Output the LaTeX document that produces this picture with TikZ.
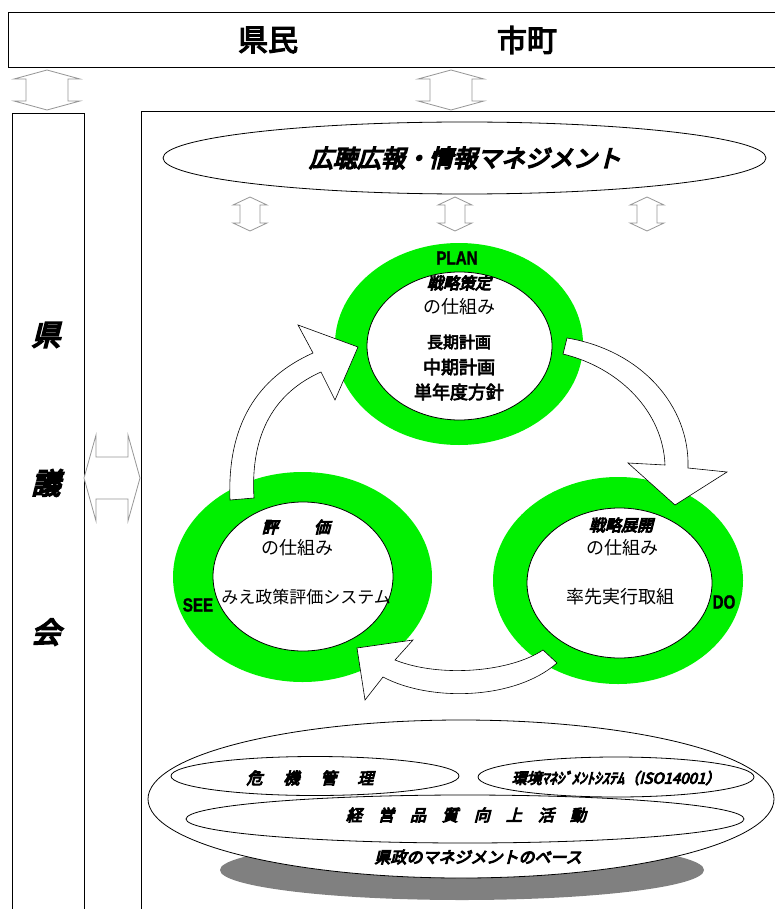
\documentclass[tikz,border=0pt]{standalone}
\usepackage{fontspec}
\usepackage{graphicx}
\newfontfamily\jp{Noto Sans CJK JP}
\newfontfamily\jpb[FakeBold=4]{Noto Sans CJK JP}
\newfontfamily\jpbi[FakeBold=6,FakeSlant=0.25]{Noto Sans CJK JP}
\newfontfamily\latb[FakeBold=1.5]{Liberation Sans}
\definecolor{ringgreen}{RGB}{0,240,0}
\definecolor{dagray}{RGB}{150,150,150}
\definecolor{shadowgray}{RGB}{128,128,128}
\newcommand{\VDArrow}[6]{%
  \draw[dagray, fill=white, line width=0.8pt] (#1,#2) -- (#1+#4,#2+#6) -- (#1+#5,#2+#6) -- (#1+#5,#3-#6) -- (#1+#4,#3-#6) -- (#1,#3) -- (#1-#4,#3-#6) -- (#1-#5,#3-#6) -- (#1-#5,#2+#6) -- (#1-#4,#2+#6) -- cycle;}
\newcommand{\HDArrow}[6]{%
  \draw[dagray, fill=white, line width=0.8pt] (#2,#1) -- (#2+#6,#1-#4) -- (#2+#6,#1-#5) -- (#3-#6,#1-#5) -- (#3-#6,#1-#4) -- (#3,#1) -- (#3-#6,#1+#4) -- (#3-#6,#1+#5) -- (#2+#6,#1+#5) -- (#2+#6,#1+#4) -- cycle;}
\tikzset{
  frame/.style={line width=0.9pt},
  ell/.style={draw=black, fill=white, line width=0.8pt},
  blockarrow/.style={draw=black, fill=white, line width=0.6pt, line join=miter},
  ringtext/.style={inner sep=0pt, font=\jp\fontsize{18}{20}\selectfont},
  ringtitle/.style={inner sep=0pt, font=\jpbi\fontsize{16}{18}\selectfont},
  phase/.style={inner sep=0pt, font=\latb\bfseries\fontsize{19}{21}\selectfont},
  basetext/.style={inner sep=0pt, font=\jpbi\fontsize{16}{18}\selectfont},
  sidetext/.style={inner sep=0pt, font=\jpbi\fontsize{29}{31}\selectfont},
}
\begin{document}
\begin{tikzpicture}[x=1pt,y=-1pt]
\useasboundingbox (0,0) rectangle (775,909);
% top box
\draw[frame] (778,12) -- (8,12) -- (8,67) -- (778,67);
\node[inner sep=0pt, font=\jpb\fontsize{30}{32}\selectfont] (kenmin) at (268,40) {県民};
\node[inner sep=0pt, font=\jpb\fontsize{30}{32}\selectfont] (shicho) at (527,40) {市町};
% left box
\draw[frame] (12,912) -- (12,113) -- (84,113) -- (84,912);
\node[sidetext] (k1) at (46,335) {県};
\node[sidetext] (k2) at (46,483) {議};
\node[sidetext] (k3) at (46,632) {会};
% main box
\draw[frame] (141,912) -- (141,111) -- (778,111);
% double arrows
\VDArrow{47}{70}{110}{33}{21}{9}
\VDArrow{451}{70}{110}{33}{21}{9}
\VDArrow{250}{197}{231}{17}{10}{8}
\VDArrow{455}{197}{231}{17}{10}{8}
\VDArrow{647}{197}{231}{17}{10}{8}
\HDArrow{478}{84}{140}{43}{21}{12}
% top ellipse
\draw[ell] (464.5,158) ellipse [x radius=301.5pt, y radius=36pt];
\node[inner sep=0pt, font=\jpbi\fontsize{24}{26}\selectfont] (koho) at (465,158) {広聴広報・情報マネジメント};
% rings
\fill[ringgreen] (459,344) ellipse [x radius=124pt, y radius=101pt];
\draw[ell] (459.5,346) ellipse [x radius=92.5pt, y radius=74pt];
\fill[ringgreen] (302.5,577) ellipse [x radius=129.5pt, y radius=105pt];
\draw[ell] (303,576.5) ellipse [x radius=90pt, y radius=74.5pt];
\fill[ringgreen] (618,580.5) ellipse [x radius=125pt, y radius=103.5pt];
\draw[ell] (619.5,583) ellipse [x radius=92.5pt, y radius=75pt];
% block arrows
\draw[blockarrow] (230,500) .. controls (227,425) and (257,378) .. (313,353) -- (298,325) -- (358,347) -- (335,400) -- (321,372) .. controls (276,392) and (250,432) .. (254,498) -- cycle;
\draw[blockarrow] (567,338) .. controls (640,350) and (690,405) .. (688,468) -- (727,472) -- (675,505) -- (628,463) -- (665,465) .. controls (663,412) and (620,368) .. (563,354) -- cycle;
\draw[blockarrow] (543,650) .. controls (510,672) and (440,678) .. (395,660) -- (413,640) -- (357,648) -- (365,700) -- (383,677) .. controls (430,702) and (515,700) .. (557,663) -- cycle;
% PLAN texts
\node[phase] (plan) at (457,258) {\scalebox{0.8}[1]{PLAN}};
\node[ringtitle] (p1) at (459,283) {戦略策定};
\node[ringtext] (p2) at (459,307) {の仕組み};
\node[ringtext, font=\jpb\fontsize{16}{18}\selectfont] (p3) at (459,342) {長期計画};
\node[ringtext, font=\jpb\fontsize{18}{20}\selectfont] (p4) at (459,367) {中期計画};
\node[ringtext, font=\jpb\fontsize{18}{20}\selectfont] (p5) at (459,392) {単年度方針};
% SEE texts
\node[ringtitle] (s1) at (296,527) {評\hspace{36pt}価};
\node[ringtext] (s2) at (297,548) {の仕組み};
\node[ringtext, font=\jp\fontsize{17}{19}\selectfont] (s3) at (306,597) {みえ政策評価システム};
\node[phase] (see) at (198,605) {\scalebox{0.8}[1]{SEE}};
% DO texts
\node[ringtitle] (d1) at (621,525) {戦略展開};
\node[ringtext] (d2) at (622,548) {の仕組み};
\node[ringtext] (d3) at (620,597) {率先実行取組};
\node[phase] (do) at (724,602) {\scalebox{0.8}[1]{DO}};
% base
\fill[shadowgray] (462,870) ellipse [x radius=242pt, y radius=30pt];
\draw[ell] (461,799) ellipse [x radius=313pt, y radius=79pt];
\draw[ell] (465,819) ellipse [x radius=279pt, y radius=24pt];
\draw[ell] (315,776) ellipse [x radius=144pt, y radius=19.5pt];
\draw[ell] (616,777) ellipse [x radius=138pt, y radius=20pt];
\node[basetext] (b1) at (310,778) {危\hspace{21pt}機\hspace{21pt}管\hspace{21pt}理};
\node[basetext, font=\jpbi\fontsize{15}{17}\selectfont] (b2) at (616,778) {環境ﾏﾈｼﾞﾒﾝﾄｼｽﾃﾑ（ISO14001）};
\node[basetext] (b3) at (466,815) {経\hspace{16pt}営\hspace{16pt}品\hspace{16pt}質\hspace{16pt}向\hspace{16pt}上\hspace{16pt}活\hspace{16pt}動};
\node[basetext] (b4) at (478,857) {県政のマネジメントのベース};
\end{tikzpicture}
\end{document}
